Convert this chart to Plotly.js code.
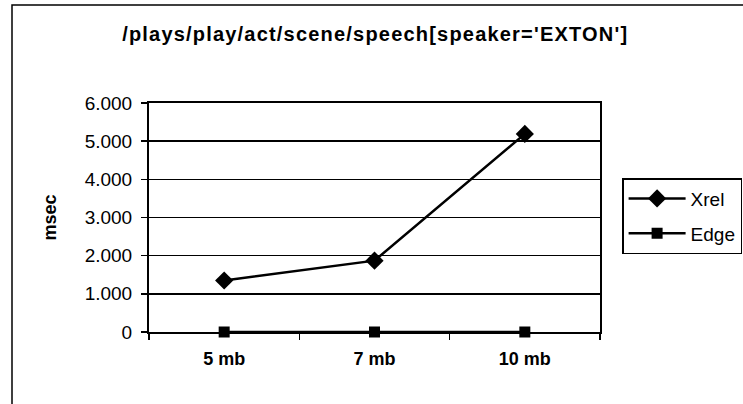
<!DOCTYPE html>
<html>
<head>
<meta charset="utf-8">
<script src="https://cdn.plot.ly/plotly-3.0.1.min.js"></script>
<style>
  html, body { margin: 0; padding: 0; background: #fff; }
  #chart { width: 743px; height: 404px; }
  /* the chart title is set with wide tracking */
  #chart .gtitle { letter-spacing: 1.2px; }
</style>
</head>
<body>
<div id="chart"></div>
<script>
// File sizes on the x axis
const categories = ['5 mb', '7 mb', '10 mb'];
// Query time in msec for each engine
const xrelValues = [1350, 1870, 5190];
const edgeValues = [0, 0, 0];
const seriesNames = ['Xrel', 'Edge'];
const chartTitle = "/plays/play/act/scene/speech[speaker='EXTON']";
const yTitle = 'msec';

const font = 'Liberation Sans, Arial, sans-serif';

const traces = [
  {
    x: categories, y: xrelValues, name: seriesNames[0], type: 'scatter', mode: 'lines+markers',
    line: { color: '#000', width: 2.5 },
    marker: { symbol: 'diamond', size: 14, color: '#000' },
    legendgroup: 'a'
  },
  {
    x: categories, y: edgeValues, name: seriesNames[1], type: 'scatter', mode: 'lines+markers',
    line: { color: '#000', width: 2.5 },
    marker: { symbol: 'square', size: 11, color: '#000' },
    legendgroup: 'b', cliponaxis: false
  }
];

const layout = {
  width: 743, height: 404, autosize: false,
  paper_bgcolor: '#fff', plot_bgcolor: '#fff',
  separators: ',.',
  margin: { l: 149, r: 143, t: 103, b: 72, pad: 0, autoexpand: false },
  font: { family: font, color: '#000', size: 16 },
  title: {
    text: '<b>' + chartTitle + '</b>',
    font: { family: font, size: 20, color: '#000' },
    x: 0.505, xanchor: 'center', y: 0.915, yanchor: 'middle'
  },
  xaxis: {
    type: 'category', range: [-0.5, 2.5], automargin: false,
    showline: true, linecolor: '#000', linewidth: 2, mirror: true,
    ticks: 'outside', tickson: 'boundaries', ticklen: 6, tickcolor: '#000', tickwidth: 1.5,
    ticklabelstandoff: 9,
    showgrid: false, zeroline: false,
    tickfont: { family: font, size: 18, color: '#000', weight: 'bold' }
  },
  yaxis: {
    range: [0, 6000], dtick: 1000, tickformat: ',d', automargin: false,
    showline: true, linecolor: '#000', linewidth: 2, mirror: true,
    ticks: 'outside', ticklen: 6, tickcolor: '#000', tickwidth: 1.5,
    ticklabelstandoff: 5,
    showgrid: true, gridcolor: '#000', gridwidth: 1.5, zeroline: false,
    tickfont: { family: font, size: 19, color: '#000' },
    title: { text: '<b>' + yTitle + '</b>', font: { family: font, size: 18, color: '#000' }, standoff: 23 }
  },
  legend: {
    x: 1.049, xanchor: 'left', y: 0.672, yanchor: 'top',
    bordercolor: '#000', borderwidth: 1.5, bgcolor: '#fff',
    font: { family: font, size: 19, color: '#000' },
    traceorder: 'grouped', tracegroupgap: 7, itemwidth: 57
  },
  shapes: [
    { type: 'rect', xref: 'paper', yref: 'paper',
      x0: -137 / 451, x1: 760 / 451 - 149 / 451, y0: -90 / 229, y1: 327 / 229,
      line: { color: '#000', width: 1.5 }, layer: 'below' }
  ],
  showlegend: true
};

Plotly.newPlot('chart', traces, layout, { displayModeBar: false, staticPlot: true });
</script>
</body>
</html>
